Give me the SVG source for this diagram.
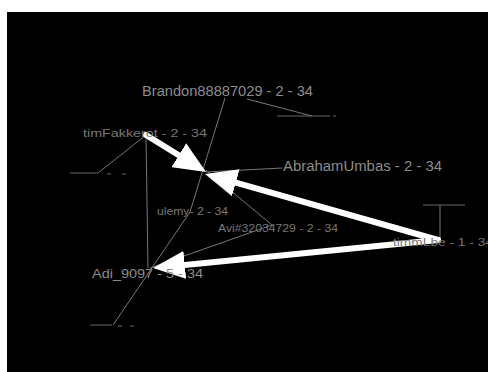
<svg xmlns="http://www.w3.org/2000/svg" width="488" height="372" viewBox="0 0 488 372">
<style>
.lbl{font-family:"Liberation Sans",Arial,sans-serif;fill:#8c8c8c}
.dim{fill:#777}
.thin{stroke:#777;stroke-width:1;fill:none}
.thick{stroke:#fff;stroke-width:6;fill:none;stroke-linecap:round}
.tick{stroke:#666;stroke-width:1.2;fill:none}
</style>
<defs>
<marker id="ah" markerUnits="userSpaceOnUse" markerWidth="33" markerHeight="28" refX="0" refY="14" orient="auto">
<path d="M0,0 L32,14 L0,28 Z" fill="#fff"/>
</marker>
</defs>
<rect x="0" y="0" width="488" height="372" fill="#fff"/>
<rect x="7" y="12" width="481" height="360" fill="#000"/>
<g id="connectors">
<line class="thin" x1="225" y1="98" x2="190" y2="212"/>
<line class="thin" x1="190" y1="212" x2="113" y2="325"/>
<line class="thin" x1="146" y1="135" x2="148" y2="268"/>
<line class="thin" x1="146" y1="135" x2="98" y2="173"/>
<line class="thin" x1="247" y1="99" x2="312" y2="116"/>
<line class="thin" x1="206" y1="170" x2="272" y2="225"/>
<line class="thin" x1="272" y1="225" x2="150" y2="268"/>
<line class="thin" x1="206" y1="172" x2="282" y2="168"/>
<line class="thin" x1="440" y1="240" x2="440" y2="205"/>
<line class="thick" x1="146" y1="135" x2="178.8" y2="155.2" marker-end="url(#ah)"/>
<line class="thick" x1="438" y1="240" x2="235.8" y2="182.7" marker-end="url(#ah)"/>
<line class="thick" x1="438" y1="240" x2="184.8" y2="264.9" marker-end="url(#ah)"/>
</g>
<g id="brandon"><text class="lbl" x="142" y="96" font-size="14" textLength="171" lengthAdjust="spacingAndGlyphs">Brandon88887029 - 2 - 34</text></g>
<g id="timfakker"><text class="lbl dim" x="83" y="137" font-size="10" textLength="124" lengthAdjust="spacingAndGlyphs">timFakkerot - 2 - 34</text></g>
<g id="abraham"><text class="lbl" x="283" y="171" font-size="14" textLength="159" lengthAdjust="spacingAndGlyphs">AbrahamUmbas - 2 - 34</text></g>
<g id="ulemy"><text class="lbl dim" x="157" y="215" font-size="10" textLength="71" lengthAdjust="spacingAndGlyphs">ulemy- 2 - 34</text></g>
<g id="avi"><text class="lbl dim" x="218" y="232" font-size="10.5" textLength="120" lengthAdjust="spacingAndGlyphs">Avi#32034729 - 2 - 34</text></g>
<g id="timmlbe"><text class="lbl dim" x="393" y="246" font-size="11" textLength="100" lengthAdjust="spacingAndGlyphs">timmLbe - 1 - 34</text></g>
<g id="adi"><text class="lbl" x="92" y="278" font-size="13.5" textLength="111" lengthAdjust="spacingAndGlyphs">Adi_9097 - 5 - 34</text></g>
<g id="leaf-left"><path class="tick" d="M70,173 H98 M107,174 H111 M122,174 H126"/></g>
<g id="leaf-bottom"><path class="tick" d="M90,325 H112 M118,326 H122 M130,326 H134"/></g>
<g id="leaf-top"><path class="tick" d="M277,116 H330 M333,116 H336"/></g>
<g id="leaf-right"><path class="tick" d="M423,205 H465"/></g>
</svg>
